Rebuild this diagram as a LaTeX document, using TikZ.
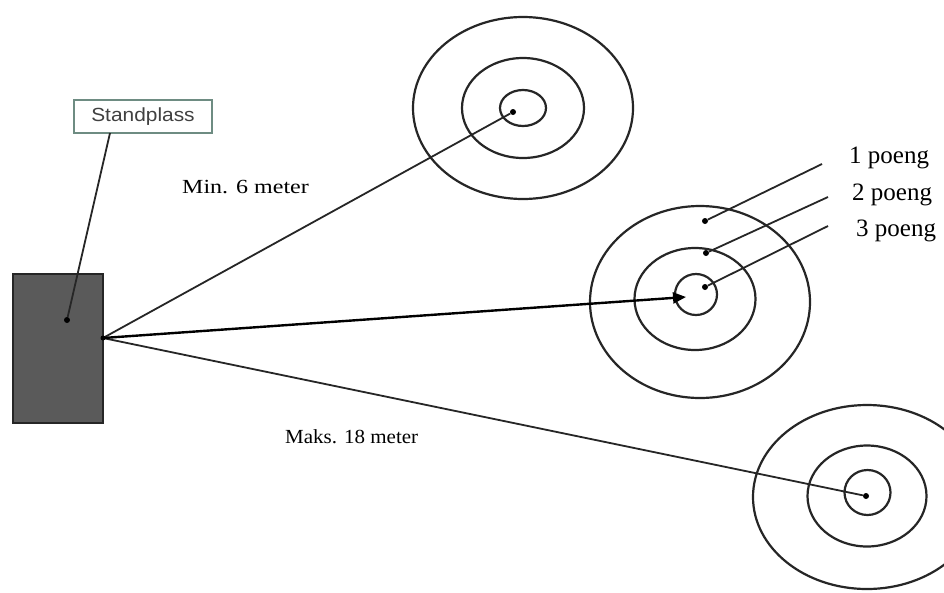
\documentclass[tikz,border=0pt]{standalone}
\usepackage{fontspec}
\setmainfont{Liberation Serif}
\newfontfamily\labsans{Liberation Sans}
\usetikzlibrary{arrows.meta,calc}
\definecolor{ink}{HTML}{262626}
\definecolor{boxgrey}{HTML}{5A5A5A}
\definecolor{tagframe}{HTML}{6E8C82}
\definecolor{tagtext}{HTML}{404040}
\tikzset{
  ring/.style={draw=ink, line width=2.2pt},
  shot/.style={draw=ink, line width=1.8pt},
  dot/.style={circle, fill=black, inner sep=0pt, minimum size=6pt},
  serlab/.style={font=\fontsize{20}{22}\selectfont, text=black, inner sep=0pt},
  ptlab/.style={font=\fontsize{25}{27}\selectfont, text=black, inner sep=0pt, anchor=west},
}
\begin{document}
\begin{tikzpicture}[x=1pt,y=-1pt]
\useasboundingbox (0,0) rectangle (944,592);
\clip (0,0) rectangle (944,592);
\fill[white] (0,0) rectangle (944,592);
% shooting position
\node[draw=ink, fill=boxgrey, line width=1.5pt, minimum width=90pt, minimum height=149pt, inner sep=0pt] (stand) at (58,348.5) {};
\node[draw=tagframe, line width=2.4pt, minimum width=138pt, minimum height=33pt, inner sep=0pt,
      font=\labsans\fontsize{19}{21}\selectfont, text=tagtext] (tag) at (143,116.5) {\scalebox{1.1}[1]{Standplass}};
\coordinate (tagfoot) at (110,133);
\node[dot] (standdot) at (67,320) {};
\draw[shot] (tagfoot) -- (standdot);
\coordinate (origin) at (103,338);
% target 1
\coordinate (t1) at (523,108);
\draw[ring] (t1) ellipse [x radius=110, y radius=91];
\draw[ring] (t1) ellipse [x radius=61, y radius=50];
\draw[ring] (t1) ellipse [x radius=23, y radius=18];
\node[dot] (hit1) at (513,112) {};
% target 2
\coordinate (t2) at (700,302);
\draw[ring] (t2) ellipse [x radius=110, y radius=96];
\draw[ring] (695,299) ellipse [x radius=60.5, y radius=51];
\draw[ring] (696,294.5) ellipse [x radius=21, y radius=20.5];
\coordinate (hit2) at (686,297);
% target 3
\coordinate (t3) at (867,497);
\draw[ring] (t3) ellipse [x radius=114, y radius=92];
\draw[ring] (867,496) ellipse [x radius=59.5, y radius=50.5];
\draw[ring] (867.5,492.5) ellipse [x radius=23, y radius=22.5];
\node[dot] (hit3) at (866,496) {};
% shot lines
\draw[shot] (origin) -- (hit1);
\draw[shot] (origin) -- (hit3);
\draw[draw=black, line width=2.4pt, -{Triangle[length=13pt,width=11pt]}] (origin) -- (hit2);
\node[dot, minimum size=5pt] at (origin) {};
% score pointers
\node[dot] (p1) at (705,221) {};
\node[dot] (p2) at (706,253) {};
\node[dot] (p3) at (705,287) {};
\coordinate (q1) at (822,164);
\coordinate (q2) at (828,197);
\coordinate (q3) at (828,226);
\draw[shot] (q1) -- (p1);
\draw[shot] (q2) -- (p2);
\draw[shot] (q3) -- (p3);
\node[ptlab] (l1) at (849,158) {1 poeng};
\node[ptlab] (l2) at (852,195) {2 poeng};
\node[ptlab] (l3) at (856,231) {3 poeng};
% distance labels
\node[serlab, anchor=west] (dmin) at (182,187) {\scalebox{1.2}[1]{Min. 6 meter}};
\node[serlab, anchor=west] (dmax) at (285,437) {\scalebox{1.05}[1]{Maks. 18 meter}};
\end{tikzpicture}
\end{document}
